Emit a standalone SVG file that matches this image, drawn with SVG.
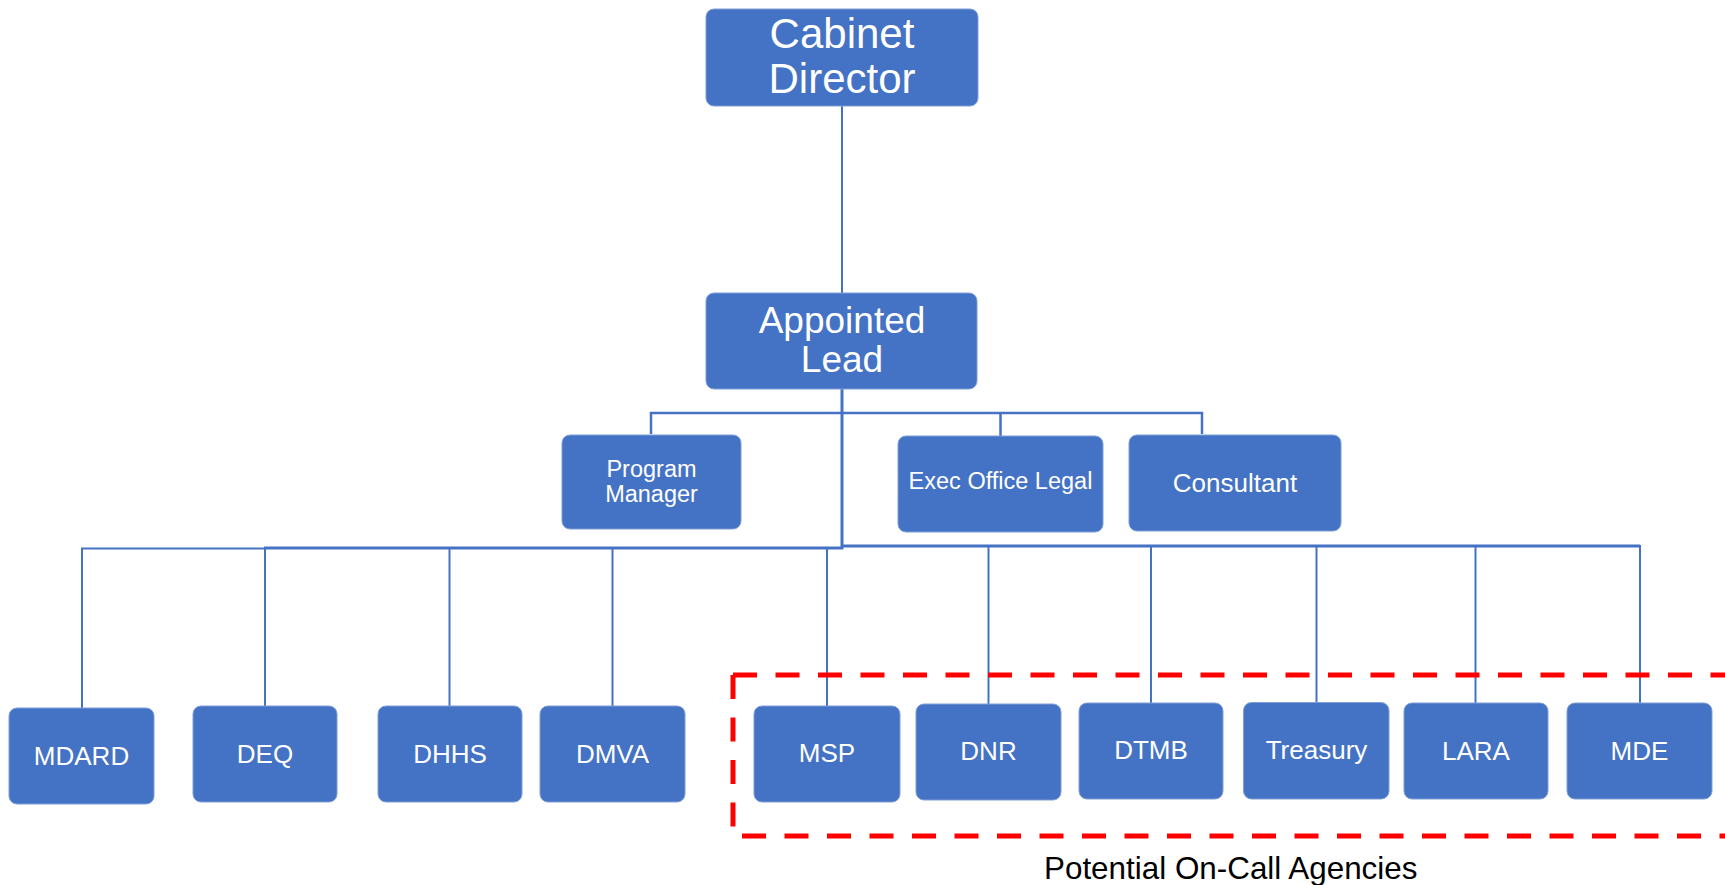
<svg xmlns="http://www.w3.org/2000/svg" width="1725" height="885" viewBox="0 0 1725 885">
<style>
.box{fill:#4472C4;stroke:#7F9FD6;stroke-width:1}
.t{fill:#FFFFFF;font-family:"Liberation Sans",Arial,sans-serif;text-anchor:middle}
.big{font-size:42px}
.mid{font-size:37px}
.sm{font-size:23.5px}
.ag{font-size:26px}
.ln{stroke:#4472C4;fill:none}
.dash{stroke:#FF0000;stroke-width:5;fill:none;stroke-dasharray:24 18.5}
.cap{fill:#000000;font-family:"Liberation Sans",Arial,sans-serif;font-size:31.4px}
</style>
<rect width="1725" height="885" fill="#FFFFFF"/>
<g id="connectors">
<line class="ln" stroke-width="2" x1="842" y1="106" x2="842" y2="293"/>
<line class="ln" stroke-width="3" x1="842" y1="389" x2="842" y2="549"/>
<polyline class="ln" stroke-width="2.5" points="651,434 651,413 1202,413 1202,434"/>
<line class="ln" stroke-width="2.5" x1="1000.5" y1="413" x2="1000.5" y2="436"/>
<polyline class="ln" stroke-width="2" points="82,708 82,548.5 265,548.5"/>
<line class="ln" stroke-width="3" x1="264" y1="548" x2="843" y2="548"/>
<line class="ln" stroke-width="3" x1="841" y1="546" x2="1640" y2="546"/>
<line class="ln" stroke-width="2" x1="265" y1="548" x2="265" y2="706"/>
<line class="ln" stroke-width="2" x1="449.5" y1="548" x2="449.5" y2="706"/>
<line class="ln" stroke-width="2" x1="612.5" y1="548" x2="612.5" y2="706"/>
<line class="ln" stroke-width="2" x1="827" y1="548" x2="827" y2="706"/>
<line class="ln" stroke-width="2" x1="988.5" y1="546" x2="988.5" y2="704"/>
<line class="ln" stroke-width="2" x1="1151" y1="546" x2="1151" y2="703"/>
<line class="ln" stroke-width="2" x1="1316.5" y1="546" x2="1316.5" y2="702"/>
<line class="ln" stroke-width="2" x1="1475.5" y1="546" x2="1475.5" y2="703"/>
<line class="ln" stroke-width="2" x1="1640" y1="545" x2="1640" y2="703"/>
</g>
<g id="on-call-group">
<path class="dash" d="M733,675 H1760"/>
<path class="dash" d="M733,675 V836 H1760"/>
<text class="cap" x="1044" y="879">Potential On-Call Agencies</text>
</g>
<g id="cabinet-director">
<rect class="box" x="706" y="9" width="272" height="97" rx="8"/>
<text class="t big" x="842" y="47.5">Cabinet</text>
<text class="t big" x="842" y="93.3">Director</text>
</g>
<g id="appointed-lead">
<rect class="box" x="706" y="293" width="271" height="96" rx="8"/>
<text class="t mid" x="842" y="333.3">Appointed</text>
<text class="t mid" x="842" y="372.3">Lead</text>
</g>
<g id="program-manager">
<rect class="box" x="562" y="435" width="179" height="94" rx="8"/>
<text class="t sm" x="651.5" y="476.7">Program</text>
<text class="t sm" x="651.5" y="502.3">Manager</text>
</g>
<g id="exec-office-legal">
<rect class="box" x="898" y="436" width="205" height="96" rx="8"/>
<text class="t sm" x="1000.5" y="489">Exec Office Legal</text>
</g>
<g id="consultant">
<rect class="box" x="1129" y="435" width="212" height="96" rx="8"/>
<text class="t ag" x="1235" y="491.7">Consultant</text>
</g>
<g id="mdard">
<rect class="box" x="9" y="708" width="145" height="96" rx="8"/>
<text class="t ag" x="81.5" y="765">MDARD</text>
</g>
<g id="deq">
<rect class="box" x="193" y="706" width="144" height="96" rx="8"/>
<text class="t ag" x="265" y="762.5">DEQ</text>
</g>
<g id="dhhs">
<rect class="box" x="378" y="706" width="144" height="96" rx="8"/>
<text class="t ag" x="450" y="762.5">DHHS</text>
</g>
<g id="dmva">
<rect class="box" x="540" y="706" width="145" height="96" rx="8"/>
<text class="t ag" x="612.5" y="762.5">DMVA</text>
</g>
<g id="msp">
<rect class="box" x="754" y="706" width="146" height="96" rx="8"/>
<text class="t ag" x="827" y="762.3">MSP</text>
</g>
<g id="dnr">
<rect class="box" x="916" y="704" width="145" height="96" rx="8"/>
<text class="t ag" x="988.5" y="760">DNR</text>
</g>
<g id="dtmb">
<rect class="box" x="1079" y="703" width="144" height="96" rx="8"/>
<text class="t ag" x="1151" y="758.5">DTMB</text>
</g>
<g id="treasury">
<rect class="box" x="1243.5" y="702.5" width="145.5" height="96.5" rx="8"/>
<text class="t ag" x="1316.5" y="759">Treasury</text>
</g>
<g id="lara">
<rect class="box" x="1404" y="703" width="144" height="96" rx="8"/>
<text class="t ag" x="1476" y="759.5">LARA</text>
</g>
<g id="mde">
<rect class="box" x="1567" y="703" width="145" height="96" rx="8"/>
<text class="t ag" x="1639.5" y="760">MDE</text>
</g>
</svg>
